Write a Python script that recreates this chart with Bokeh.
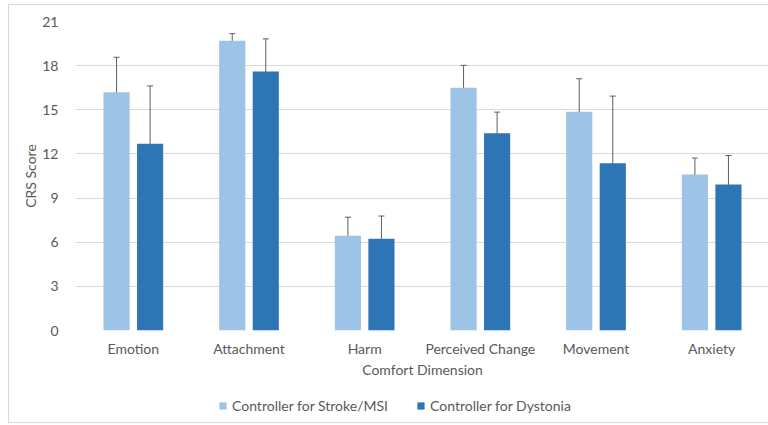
from bokeh.plotting import figure
from bokeh.layouts import column
from bokeh.models import (ColumnDataSource, FactorRange, Range1d, Whisker, TeeHead,
                          Legend, LegendItem, FixedTicker)
from bokeh.transform import dodge
from bokeh.embed import file_html
from bokeh.resources import INLINE

categories = ["Emotion", "Attachment", "Harm", "Perceived Change", "Movement", "Anxiety"]
stroke_mean = [16.2, 19.7, 6.44, 16.5, 14.87, 10.6]
stroke_err = [2.37, 0.47, 1.26, 1.52, 2.24, 1.12]
dystonia_mean = [12.7, 17.6, 6.23, 13.41, 11.37, 9.92]
dystonia_err = [3.92, 2.22, 1.55, 1.43, 4.56, 1.97]
y_ticks = [0, 3, 6, 9, 12, 15, 18, 21]
series_names = ["Controller for Stroke/MSI", "Controller for Dystonia"]

LIGHT = "#9dc3e6"
DARK = "#2e75b6"
TEXT = "#595959"
ERR = "#5f5f5f"
BORDER = "1px solid #d9d9d9"
FONT = "Lato"
FS = "14px"

src = ColumnDataSource(dict(
    cat=categories,
    s=stroke_mean,
    s_lo=[m - e for m, e in zip(stroke_mean, stroke_err)],
    s_hi=[m + e for m, e in zip(stroke_mean, stroke_err)],
    d=dystonia_mean,
    d_lo=[m - e for m, e in zip(dystonia_mean, dystonia_err)],
    d_hi=[m + e for m, e in zip(dystonia_mean, dystonia_err)],
))

p = figure(width=760, height=380, output_backend="svg", toolbar_location=None,
           x_range=FactorRange(factors=categories, range_padding=0),
           y_range=Range1d(0, 21))
p.styles = {"border-left": BORDER, "border-top": BORDER, "box-sizing": "border-box"}
p.min_border_left = 66
p.min_border_right = 0
p.min_border_top = 16
p.min_border_bottom = 55
p.outline_line_color = None
p.background_fill_color = "white"
p.border_fill_color = "white"

off = 0.145
bw = 0.226
r1 = p.vbar(x=dodge("cat", -off, range=p.x_range), top="s", width=bw, source=src,
            fill_color=LIGHT, line_color=None)
r2 = p.vbar(x=dodge("cat", off, range=p.x_range), top="d", width=bw, source=src,
            fill_color=DARK, line_color=None)

for xo, lo, hi in [(-off, "s_lo", "s_hi"), (off, "d_lo", "d_hi")]:
    w = Whisker(base=dodge("cat", xo, range=p.x_range), lower=lo, upper=hi, source=src,
                line_color=ERR, line_width=1,
                upper_head=TeeHead(size=6, line_color=ERR, line_width=1),
                lower_head=TeeHead(size=6, line_color=ERR, line_width=1))
    p.add_layout(w)

p.yaxis.ticker = FixedTicker(ticks=y_ticks)
p.xgrid.grid_line_color = None
p.ygrid.grid_line_color = "#d9d9d9"
p.ygrid.grid_line_width = 1

for ax in (p.xaxis[0], p.yaxis[0]):
    ax.axis_line_color = None
    ax.major_tick_line_color = None
    ax.minor_tick_line_color = None
    ax.major_label_text_font = FONT
    ax.major_label_text_font_size = FS
    ax.major_label_text_color = TEXT
    ax.axis_label_text_font = FONT
    ax.axis_label_text_font_size = FS
    ax.axis_label_text_color = TEXT
    ax.axis_label_text_font_style = "normal"

p.yaxis.axis_label = "CRS Score"
p.yaxis.major_label_standoff = 11
p.yaxis.axis_label_standoff = 0
p.xaxis.axis_label = "Comfort Dimension"
p.xaxis.major_label_standoff = 3
p.xaxis.axis_label_standoff = 1

# legend strip below the chart
p2 = figure(width=760, height=39, output_backend="svg", toolbar_location=None,
            x_axis_location=None, y_axis_location=None,
            x_range=Range1d(0, 1), y_range=Range1d(0, 1))
p2.styles = {"border-left": BORDER, "border-bottom": BORDER, "box-sizing": "border-box"}
p2.min_border_left = 0
p2.min_border_right = 0
p2.min_border_top = 0
p2.min_border_bottom = 0
p2.outline_line_color = None
p2.xgrid.visible = False
p2.ygrid.visible = False
# legend swatches: hidden copies of the two bar series
l1 = p2.vbar(x="s", top="s", width=0.1, source=src, fill_color=LIGHT, line_color=None,
             visible=False)
l2 = p2.vbar(x="d", top="d", width=0.1, source=src, fill_color=DARK, line_color=None,
             visible=False)
legend = Legend(items=[LegendItem(label=series_names[0], renderers=[l1]),
                       LegendItem(label=series_names[1], renderers=[l2])],
                orientation="horizontal", location=(143, 9),
                glyph_width=9, glyph_height=9, label_text_font=FONT,
                label_text_font_size=FS, label_text_color=TEXT,
                spacing=28, label_standoff=5, padding=5, margin=0,
                inactive_fill_alpha=0,
                border_line_color=None, background_fill_alpha=0)
p2.add_layout(legend, "center")

layout = column(p, p2, margin=(4, 0, 0, 8), spacing=0)

open("out.html", "w").write(file_html(layout, INLINE))
